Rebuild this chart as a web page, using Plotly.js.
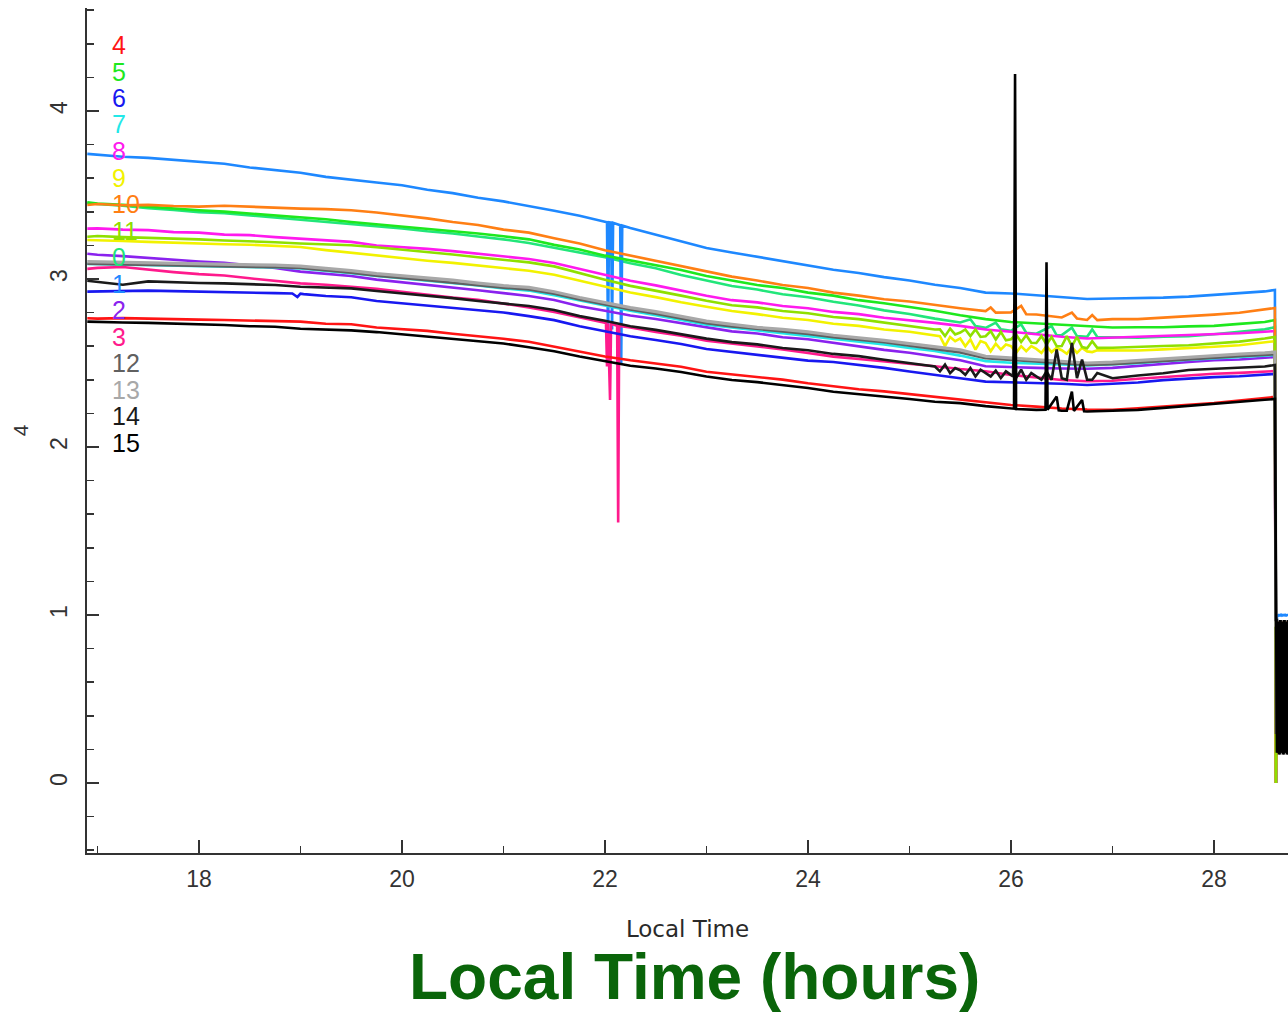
<!DOCTYPE html>
<html>
<head>
<meta charset="utf-8">
<script src="https://cdn.plot.ly/plotly-3.0.1.min.js"></script>
<style>
  html, body { margin: 0; padding: 0; background: #ffffff; }
  #chart { width: 1288px; height: 1012px; }
</style>
</head>
<body>
<div id="chart"></div>
<script>
// Sample times (local hours); the last points cover the drop-out after 28.6 h
const hours = [16.9, 17, 17.25, 17.5, 17.75, 18, 18.25, 18.5, 18.75, 19, 19.25, 19.5, 19.75,
  20, 20.25, 20.5, 20.75, 21, 21.25, 21.5, 21.75, 22, 22.25, 22.5, 22.75, 23, 23.25, 23.5, 23.75,
  24, 24.25, 24.5, 24.75, 25, 25.25, 25.5, 25.75, 26, 26.25, 26.5, 26.75, 27, 27.25, 27.5, 27.75,
  28, 28.25, 28.5, 28.6,
  28.61, 28.62, 28.63, 28.64, 28.65, 28.66, 28.67, 28.68, 28.69, 28.7, 28.71, 28.72, 28.73, 28.74];

// Channel readings
const ch0 = [3.452, 3.446, 3.436, 3.421, 3.411, 3.398, 3.392, 3.379, 3.366, 3.353, 3.342, 3.329, 3.314,
  3.301, 3.284, 3.271, 3.253, 3.236, 3.214, 3.185, 3.158, 3.129, 3.094, 3.064, 3.024, 2.99, 2.958, 2.937, 2.909,
  2.891, 2.864, 2.842, 2.813, 2.792, 2.764, 2.741, 2.709, 2.692, 2.674, 2.666, 2.656, 2.653, 2.651, 2.656, 2.66,
  2.671, 2.684, 2.7, 2.713,
  0, 0.9, 0.86, 0.91, 0.87, 0.9, 0.85, 0.92, 0.86, 0.9, 0.87, 0.91, 0.86, 0.9];
const ch1 = [3.745, 3.739, 3.728, 3.721, 3.708, 3.699, 3.686, 3.664, 3.649, 3.632, 3.608, 3.593, 3.574,
  3.558, 3.531, 3.511, 3.483, 3.462, 3.436, 3.406, 3.377, 3.342, 3.303, 3.263, 3.222, 3.185, 3.158, 3.132, 3.106,
  3.082, 3.055, 3.036, 3.011, 2.991, 2.966, 2.946, 2.919, 2.914, 2.904, 2.894, 2.881, 2.884, 2.886, 2.889, 2.895,
  2.904, 2.915, 2.926, 2.935,
  0, 1.0, 0.995, 1.0, 0.997, 1.002, 0.996, 1.0, 0.998, 1.001, 0.997, 1.0, 0.998, 1.0];
const ch2 = [3.15, 3.144, 3.136, 3.124, 3.116, 3.104, 3.096, 3.079, 3.066, 3.044, 3.031, 3.018, 2.996,
  2.981, 2.963, 2.951, 2.933, 2.916, 2.899, 2.875, 2.838, 2.811, 2.783, 2.762, 2.736, 2.71, 2.688, 2.676, 2.653,
  2.641, 2.619, 2.601, 2.578, 2.561, 2.538, 2.516, 2.481, 2.474, 2.471, 2.467, 2.466, 2.471, 2.484, 2.496, 2.506,
  2.516, 2.521, 2.531, 2.536,
  0, 0.88, 0.92, 0.87, 0.93, 0.88, 0.91, 0.86, 0.92, 0.88, 0.91, 0.87, 0.92, 0.88];
const ch3 = [3.06, 3.066, 3.071, 3.054, 3.041, 3.029, 3.021, 3.004, 2.991, 2.974, 2.966, 2.954, 2.941,
  2.924, 2.906, 2.889, 2.876, 2.854, 2.831, 2.803, 2.771, 2.738, 2.711, 2.685, 2.663, 2.633, 2.616, 2.598, 2.581,
  2.559, 2.538, 2.524, 2.511, 2.494, 2.481, 2.464, 2.451, 2.429, 2.416, 2.399, 2.391, 2.394, 2.406, 2.417, 2.429,
  2.436, 2.441, 2.449, 2.452,
  0, 0.85, 0.9, 0.84, 0.91, 0.86, 0.9, 0.85, 0.91, 0.86, 0.89, 0.85, 0.9, 0.86];
const ch4 = [2.766, 2.764, 2.767, 2.763, 2.761, 2.758, 2.756, 2.754, 2.749, 2.746, 2.734, 2.731, 2.711,
  2.699, 2.691, 2.674, 2.661, 2.644, 2.626, 2.598, 2.571, 2.539, 2.516, 2.495, 2.478, 2.448, 2.431, 2.414, 2.401,
  2.379, 2.361, 2.344, 2.331, 2.314, 2.301, 2.284, 2.263, 2.25, 2.24, 2.229, 2.223, 2.221, 2.231, 2.239, 2.251,
  2.262, 2.276, 2.289, 2.298,
  0, 0.8, 0.86, 0.79, 0.87, 0.81, 0.86, 0.8, 0.87, 0.81, 0.85, 0.8, 0.86, 0.81];
const ch5 = [3.456, 3.449, 3.441, 3.429, 3.421, 3.409, 3.401, 3.389, 3.376, 3.364, 3.356, 3.339, 3.326,
  3.314, 3.301, 3.284, 3.271, 3.254, 3.236, 3.203, 3.176, 3.139, 3.111, 3.08, 3.053, 3.018, 2.991, 2.964, 2.946,
  2.919, 2.901, 2.874, 2.856, 2.834, 2.811, 2.784, 2.761, 2.744, 2.736, 2.724, 2.717, 2.711, 2.713, 2.713, 2.718,
  2.721, 2.733, 2.744, 2.756,
  0, 0.93, 0.9, 0.94, 0.9, 0.93, 0.89, 0.94, 0.9, 0.93, 0.9, 0.94, 0.9, 0.93];
const ch6 = [2.925, 2.926, 2.929, 2.931, 2.928, 2.926, 2.924, 2.921, 2.916, 2.913, 2.899, 2.891, 2.869,
  2.856, 2.844, 2.831, 2.814, 2.801, 2.779, 2.755, 2.719, 2.691, 2.659, 2.637, 2.613, 2.583, 2.566, 2.549, 2.531,
  2.514, 2.506, 2.489, 2.471, 2.449, 2.431, 2.409, 2.389, 2.386, 2.379, 2.376, 2.369, 2.376, 2.384, 2.398, 2.408,
  2.416, 2.421, 2.431, 2.435,
  0, 0.82, 0.87, 0.81, 0.88, 0.82, 0.87, 0.81, 0.88, 0.82, 0.86, 0.81, 0.87, 0.82];
const ch7 = [3.089, 3.088, 3.085, 3.082, 3.08, 3.077, 3.075, 3.072, 3.068, 3.062, 3.05, 3.034, 3.018,
  3.004, 2.991, 2.974, 2.961, 2.944, 2.931, 2.903, 2.871, 2.839, 2.811, 2.785, 2.758, 2.728, 2.711, 2.694, 2.681,
  2.664, 2.646, 2.629, 2.611, 2.589, 2.571, 2.544, 2.511, 2.501, 2.494, 2.491, 2.486, 2.491, 2.499, 2.511, 2.519,
  2.528, 2.534, 2.544, 2.548,
  0, 0.89, 0.93, 0.88, 0.94, 0.89, 0.92, 0.88, 0.93, 0.89, 0.92, 0.88, 0.93, 0.89];
const ch8 = [3.3, 3.301, 3.294, 3.291, 3.279, 3.276, 3.264, 3.261, 3.249, 3.241, 3.229, 3.221, 3.199,
  3.191, 3.179, 3.166, 3.149, 3.136, 3.119, 3.095, 3.059, 3.026, 2.989, 2.962, 2.931, 2.9, 2.874, 2.861, 2.839,
  2.826, 2.804, 2.791, 2.769, 2.756, 2.739, 2.721, 2.699, 2.686, 2.669, 2.656, 2.646, 2.651, 2.654, 2.661, 2.666,
  2.673, 2.677, 2.686, 2.69,
  0, 0.91, 0.88, 0.92, 0.87, 0.91, 0.88, 0.92, 0.87, 0.91, 0.88, 0.92, 0.87, 0.91];
const ch9 = [3.232, 3.231, 3.226, 3.221, 3.215, 3.212, 3.207, 3.204, 3.197, 3.19, 3.172, 3.156, 3.139,
  3.126, 3.109, 3.096, 3.079, 3.066, 3.049, 3.025, 2.989, 2.951, 2.919, 2.892, 2.861, 2.835, 2.809, 2.791, 2.769,
  2.756, 2.734, 2.721, 2.699, 2.686, 2.664, 2.646, 2.619, 2.601, 2.584, 2.576, 2.569, 2.573, 2.574, 2.581, 2.587,
  2.597, 2.606, 2.621, 2.63,
  0, 0.87, 0.91, 0.86, 0.92, 0.87, 0.91, 0.86, 0.92, 0.87, 0.9, 0.86, 0.91, 0.87];
const ch10 = [3.44, 3.446, 3.439, 3.441, 3.434, 3.431, 3.436, 3.429, 3.426, 3.419, 3.416, 3.409, 3.396,
  3.379, 3.361, 3.339, 3.321, 3.294, 3.276, 3.243, 3.211, 3.171, 3.139, 3.107, 3.076, 3.045, 3.014, 2.991, 2.964,
  2.946, 2.919, 2.901, 2.879, 2.866, 2.844, 2.826, 2.809, 2.801, 2.789, 2.771, 2.756, 2.761, 2.761, 2.769, 2.776,
  2.788, 2.799, 2.816, 2.827,
  0, 0.95, 0.92, 0.96, 0.92, 0.95, 0.91, 0.96, 0.92, 0.95, 0.92, 0.96, 0.92, 0.95];
const ch11 = [3.251, 3.256, 3.249, 3.246, 3.239, 3.236, 3.229, 3.226, 3.219, 3.211, 3.204, 3.201, 3.189,
  3.176, 3.159, 3.146, 3.129, 3.116, 3.099, 3.075, 3.034, 2.996, 2.959, 2.932, 2.901, 2.87, 2.844, 2.831, 2.809,
  2.796, 2.774, 2.761, 2.739, 2.721, 2.699, 2.681, 2.659, 2.641, 2.619, 2.601, 2.587, 2.591, 2.594, 2.601, 2.606,
  2.616, 2.627, 2.646, 2.655,
  0, 0.88, 0.92, 0.87, 0.93, 0.88, 0.92, 0.87, 0.93, 0.88, 0.91, 0.87, 0.92, 0.88];
const ch12 = [3.091, 3.09, 3.087, 3.084, 3.081, 3.078, 3.076, 3.073, 3.07, 3.065, 3.053, 3.038, 3.02,
  3.008, 2.993, 2.978, 2.963, 2.948, 2.938, 2.912, 2.878, 2.848, 2.818, 2.794, 2.765, 2.737, 2.718, 2.703, 2.688,
  2.673, 2.653, 2.638, 2.623, 2.603, 2.583, 2.563, 2.528, 2.518, 2.508, 2.498, 2.488, 2.493, 2.503, 2.513, 2.525,
  2.533, 2.541, 2.548, 2.553,
  0.3, 0.3, 0.9, 0.28, 0.92, 0.3, 0.91, 0.29, 0.92, 0.3, 0.9, 0.28, 0.91, 0.3];
const ch13 = [3.103, 3.102, 3.099, 3.096, 3.093, 3.09, 3.091, 3.085, 3.082, 3.077, 3.065, 3.05, 3.032,
  3.02, 3.005, 2.993, 2.975, 2.96, 2.95, 2.924, 2.89, 2.86, 2.83, 2.806, 2.777, 2.749, 2.73, 2.712, 2.7,
  2.685, 2.665, 2.65, 2.635, 2.615, 2.595, 2.578, 2.54, 2.53, 2.52, 2.51, 2.5, 2.505, 2.515, 2.525, 2.537,
  2.545, 2.553, 2.56, 2.565,
  0.94, 0.94, 0.9, 0.95, 0.9, 0.94, 0.89, 0.95, 0.9, 0.94, 0.9, 0.95, 0.9, 0.94];
const ch14 = [2.99, 2.984, 2.966, 2.986, 2.979, 2.976, 2.974, 2.969, 2.964, 2.954, 2.951, 2.944, 2.929,
  2.916, 2.899, 2.886, 2.869, 2.856, 2.839, 2.815, 2.779, 2.751, 2.719, 2.697, 2.671, 2.645, 2.624, 2.611, 2.589,
  2.576, 2.554, 2.541, 2.519, 2.501, 2.479, 2.456, 2.441, 2.428, 2.421, 2.409, 2.401, 2.409, 2.426, 2.439, 2.458,
  2.464, 2.473, 2.479, 2.488,
  0.97, 0.97, 0.18, 0.96, 0.17, 0.97, 0.18, 0.96, 0.17, 0.97, 0.18, 0.96, 0.17, 0.97];
const ch15 = [2.746, 2.744, 2.741, 2.739, 2.736, 2.729, 2.726, 2.719, 2.716, 2.704, 2.701, 2.694, 2.684,
  2.671, 2.659, 2.646, 2.629, 2.616, 2.594, 2.57, 2.539, 2.511, 2.484, 2.467, 2.446, 2.42, 2.399, 2.386, 2.369,
  2.351, 2.329, 2.316, 2.299, 2.286, 2.269, 2.261, 2.243, 2.231, 2.221, 2.216, 2.211, 2.216, 2.221, 2.233, 2.244,
  2.256, 2.266, 2.281, 2.286,
  0.96, 0.18, 0.96, 0.17, 0.97, 0.18, 0.96, 0.17, 0.97, 0.18, 0.96, 0.17, 0.97, 0.18];

// Short glitches and noisy stretches recorded between the regular samples
const burstHours0 = [25.6, 25.65, 25.85, 25.9, 26.1, 26.15, 26.4, 26.45, 26.6, 26.65, 26.8, 26.85];
const burst0 = [2.76, 2.72, 2.74, 2.7, 2.73, 2.68, 2.72, 2.665, 2.71, 2.66, 2.7, 2.655];
const dipHours1 = [22.02, 22.03, 22.04, 22.06, 22.07, 22.08, 22.15, 22.16, 22.17];
const dip1 = [3.338, 2.6, 3.337, 3.335, 2.7, 3.334, 3.32, 2.5, 3.318];
const dipHours3 = [22.01, 22.02, 22.03, 22.05, 22.06, 22.12, 22.13, 22.14];
const dip3 = [2.738, 2.48, 2.736, 2.28, 2.733, 2.722, 1.55, 2.72];
const dipHours6 = [18.92, 18.97, 19.03];
const dip6 = [2.914, 2.893, 2.91];
const burstHours9 = [25.3, 25.35, 25.4, 25.45, 25.55, 25.6, 25.65, 25.7, 25.8, 25.85, 25.9, 25.95, 26.05,
  26.1, 26.15, 26.2, 26.3, 26.35, 26.4, 26.45, 26.55, 26.6, 26.65, 26.7, 26.8, 26.85];
const burst9 = [2.66, 2.6, 2.655, 2.63, 2.6, 2.64, 2.58, 2.63, 2.57, 2.615, 2.58, 2.61, 2.56,
  2.6, 2.57, 2.6, 2.56, 2.6, 2.565, 2.59, 2.555, 2.595, 2.56, 2.59, 2.565, 2.575];
const burstHours10 = [25.8, 25.85, 26.1, 26.15, 26.6, 26.65, 26.8, 26.85];
const burst10 = [2.83, 2.8, 2.84, 2.79, 2.8, 2.765, 2.785, 2.755];
const burstHours11 = [25.3, 25.35, 25.4, 25.45, 25.55, 25.6, 25.65, 25.7, 25.8, 25.85, 25.9, 25.95, 26.05,
  26.1, 26.15, 26.2, 26.3, 26.35, 26.4, 26.45, 26.55, 26.6, 26.65, 26.7, 26.8, 26.85];
const burst11 = [2.7, 2.66, 2.705, 2.67, 2.7, 2.66, 2.7, 2.655, 2.69, 2.64, 2.685, 2.635, 2.67,
  2.625, 2.665, 2.62, 2.66, 2.61, 2.655, 2.6, 2.66, 2.6, 2.655, 2.595, 2.63, 2.59];
const burstHours14 = [25.3, 25.35, 25.4, 25.45, 25.55, 25.6, 25.65, 25.7, 25.8, 25.85, 25.9, 25.95, 26.02,
  26.035, 26.05, 26.1, 26.15, 26.2, 26.3, 26.35, 26.4, 26.45, 26.55, 26.6, 26.65, 26.7, 26.8, 26.85];
const burst14 = [2.45, 2.49, 2.44, 2.47, 2.43, 2.47, 2.42, 2.46, 2.42, 2.455, 2.41, 2.45, 2.42,
  2.85, 2.41, 2.46, 2.4, 2.44, 2.4, 2.45, 2.4, 2.58, 2.4, 2.62, 2.41, 2.52, 2.4, 2.44];
const spikeHours15 = [26.03, 26.04, 26.05, 26.34, 26.35, 26.36, 26.45, 26.47, 26.55, 26.6, 26.62, 26.7, 26.72, 26.8];
const spike15 = [2.228, 4.22, 2.226, 2.222, 3.1, 2.221, 2.3, 2.218, 2.216, 2.33, 2.215, 2.28, 2.213, 2.212];

// Label order of the colour key, top to bottom
const keyOrder = ['4', '5', '6', '7', '8', '9', '10', '11', '0', '1', '2', '3', '12', '13', '14', '15'];

const channels = [ch0, ch1, ch2, ch3, ch4, ch5, ch6, ch7, ch8, ch9, ch10, ch11, ch12, ch13, ch14, ch15];
const extras = {
  0: [burstHours0, burst0], 1: [dipHours1, dip1], 3: [dipHours3, dip3], 6: [dipHours6, dip6],
  9: [burstHours9, burst9], 10: [burstHours10, burst10], 11: [burstHours11, burst11],
  14: [burstHours14, burst14], 15: [spikeHours15, spike15]
};

const lineColors = ['#22e67a', '#1e88ff', '#8a22ee', '#ff1a8c', '#ff1414', '#1ee81e', '#1818f0', '#22e8e8',
  '#ff1aee', '#f2f200', '#ff7f14', '#8fe000', '#606060', '#a8a8a8', '#1a1a1a', '#000000'];
const lineWidths = [2.6, 2.6, 2.6, 2.6, 2.6, 2.6, 2.6, 2.6, 2.6, 2.6, 2.6, 2.6, 2.6, 3.2, 2.6, 2.6];

function mergeSamples(xs, ys, ex, ey) {
  const pts = xs.map((x, i) => [x, ys[i]]);
  if (ex) ex.forEach((x, i) => pts.push([x, ey[i]]));
  pts.sort((a, b) => a[0] - b[0]);
  return { x: pts.map(p => p[0]), y: pts.map(p => p[1]) };
}

const traces = channels.map((vals, i) => {
  const ex = extras[i];
  const m = mergeSamples(hours, vals, ex ? ex[0] : null, ex ? ex[1] : null);
  return {
    type: 'scatter', mode: 'lines', name: String(i),
    x: m.x, y: m.y,
    line: { color: lineColors[i], width: lineWidths[i] },
    hoverinfo: 'skip', showlegend: false
  };
});

// Plot-area geometry in pixels
const W = 1288, H = 1012;
const M = { l: 87, r: 0, t: 8, b: 159 };
const plotH = H - M.t - M.b;
const plotW = W - M.l - M.r;
const toPaperY = py => (H - M.b - py) / plotH;
const toPaperX = px => (px - M.l) / plotW;

// Colour key: numbers stacked down the upper-left corner
const annotations = keyOrder.map((lab, k) => ({
  xref: 'paper', yref: 'paper',
  x: toPaperX(110), y: toPaperY(45 + k * 26.5),
  xanchor: 'left', yanchor: 'middle',
  text: lab, showarrow: false,
  font: { family: 'Liberation Sans, Arial, sans-serif', size: 25, color: lineColors[Number(lab)] }
}));

annotations.push({
  xref: 'paper', yref: 'paper',
  x: toPaperX(694), y: toPaperY(977),
  xanchor: 'center', yanchor: 'middle',
  text: '<b>Local Time (hours)</b>', showarrow: false,
  font: { family: 'Liberation Sans, Arial, sans-serif', size: 64, color: '#0a650a' }
});

const axisInk = '#333333';

const layout = {
  width: W, height: H,
  margin: M,
  paper_bgcolor: '#ffffff', plot_bgcolor: '#ffffff',
  showlegend: false,
  xaxis: {
    range: [16.897, 28.729],
    tick0: 0, dtick: 2,
    ticks: 'inside', ticklen: 13, tickwidth: 1.5, tickcolor: axisInk,
    minor: { dtick: 1, ticks: 'inside', ticklen: 7, tickwidth: 1.5, tickcolor: axisInk },
    showline: true, linecolor: axisInk, linewidth: 2, mirror: false,
    showgrid: false, zeroline: false, automargin: false,
    ticklabelstandoff: 4,
    tickfont: { family: 'Liberation Sans, Arial, sans-serif', size: 23, color: axisInk },
    title: { text: 'Local Time', standoff: 30,
      font: { family: 'DejaVu Sans, sans-serif', size: 23, color: '#2a2a2a' } }
  },
  yaxis: {
    range: [-0.4167, 4.613],
    tick0: 0, dtick: 1,
    ticks: 'inside', ticklen: 12, tickwidth: 1.5, tickcolor: axisInk,
    minor: { dtick: 0.2, ticks: 'inside', ticklen: 7, tickwidth: 1.5, tickcolor: axisInk },
    showline: true, linecolor: axisInk, linewidth: 2, mirror: false,
    showgrid: false, zeroline: false, automargin: false,
    tickangle: -90,
    ticklabelstandoff: 9,
    tickfont: { family: 'Liberation Sans, Arial, sans-serif', size: 23, color: axisInk },
    title: { text: '4', standoff: 11,
      font: { family: 'Liberation Sans, Arial, sans-serif', size: 21, color: axisInk } }
  },
  annotations: annotations
};

Plotly.newPlot('chart', traces, layout, { staticPlot: true, displayModeBar: false });
</script>
</body>
</html>
